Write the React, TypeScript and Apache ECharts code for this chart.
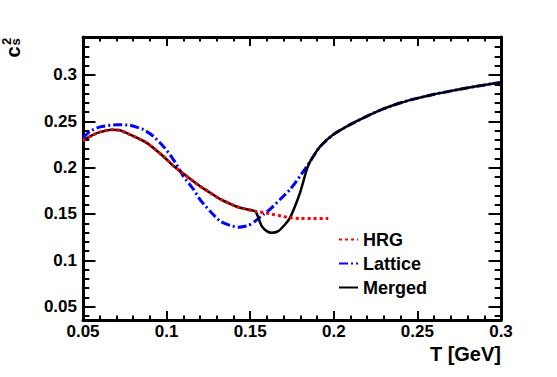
import { useEffect, useRef } from "react";
import * as echarts from "echarts";

const X_MIN = 0.05;
const X_MAX = 0.3;
const Y_MIN = 0.0356;
const Y_MAX = 0.341;

const yMajorTicks = [0.05, 0.1, 0.15, 0.2, 0.25, 0.3];
const yMinorTicks = [
  0.04, 0.06, 0.07, 0.08, 0.09, 0.11, 0.12, 0.13, 0.14, 0.16, 0.17, 0.18, 0.19,
  0.21, 0.22, 0.23, 0.24, 0.26, 0.27, 0.28, 0.29, 0.31, 0.32, 0.33, 0.34,
];

const legendNames = ["HRG", "Lattice", "Merged"];

const hrgT = [
  0.05, 0.055, 0.06, 0.0672, 0.072, 0.0781, 0.0881, 0.098, 0.104, 0.11, 0.114,
  0.12, 0.126, 0.132, 0.138, 0.144, 0.1529, 0.1589, 0.1639, 0.1689, 0.1738,
  0.1798, 0.1878, 0.1967,
];
const hrgCs2 = [
  0.229, 0.2345, 0.2383, 0.241, 0.2403, 0.2357, 0.2267, 0.2123, 0.202, 0.1936,
  0.188, 0.18, 0.173, 0.166, 0.161, 0.1567, 0.153, 0.1513, 0.1495, 0.1476,
  0.1459, 0.1451, 0.145, 0.145,
];

const latticeT = [
  0.05, 0.0542, 0.0602, 0.0702, 0.0781, 0.0861, 0.0921, 0.098, 0.102, 0.106,
  0.11, 0.116, 0.12, 0.126, 0.132, 0.138, 0.1429, 0.1489, 0.1529, 0.1578,
  0.1618, 0.1678, 0.1738, 0.1798, 0.1838, 0.1858, 0.1917, 0.1997, 0.2097,
  0.2196, 0.2296, 0.2396, 0.2496, 0.2595, 0.2695, 0.2795, 0.2894, 0.3,
];
const latticeCs2 = [
  0.232, 0.2392, 0.244, 0.2464, 0.2457, 0.2411, 0.2339, 0.2231, 0.2141, 0.2033,
  0.1907, 0.1768, 0.1656, 0.153, 0.1422, 0.1376, 0.1358, 0.1376, 0.1422, 0.1495,
  0.1549, 0.1656, 0.1764, 0.1908, 0.201, 0.2065, 0.2225, 0.2357, 0.2464,
  0.2554, 0.2634, 0.2698, 0.2748, 0.279, 0.2826, 0.286, 0.289, 0.292,
];

const mergedT = [
  0.05, 0.055, 0.06, 0.0672, 0.072, 0.0781, 0.0881, 0.098, 0.104, 0.11, 0.114,
  0.12, 0.126, 0.132, 0.138, 0.144, 0.1529, 0.1549, 0.1569, 0.1599, 0.1629,
  0.1668, 0.1708, 0.1738, 0.1768, 0.1798, 0.1818, 0.1838, 0.1858, 0.1917,
  0.1997, 0.2097, 0.2196, 0.2296, 0.2396, 0.2496, 0.2595, 0.2695, 0.2795,
  0.2894, 0.3,
];
const mergedCs2 = [
  0.229, 0.2345, 0.2383, 0.241, 0.2403, 0.2357, 0.2267, 0.2123, 0.202, 0.1936,
  0.188, 0.18, 0.173, 0.166, 0.161, 0.1567, 0.153, 0.1459, 0.1369, 0.1315,
  0.1297, 0.1315, 0.1387, 0.1459, 0.1584, 0.1728, 0.1853, 0.1979, 0.2065,
  0.2225, 0.2357, 0.2464, 0.2554, 0.2634, 0.2698, 0.2748, 0.279, 0.2826, 0.286,
  0.289, 0.292,
];

const FONT = "'Liberation Sans', Arial, Helvetica, sans-serif";

const zip = (xs: number[], ys: number[]) => xs.map((x, i) => [x, ys[i]]);
const fmt = (v: number) => String(parseFloat(v.toFixed(3)));

export default function App() {
  const ref = useRef<HTMLDivElement>(null);

  useEffect(() => {
    if (!ref.current) return;
    const chart = echarts.init(ref.current, null, { renderer: "svg" });

    const lineBlack = { color: "#000", width: 3 };
    const tickStyle = { color: "#000", width: 2 };

    const xBase = (pos: "bottom" | "top", showLabel: boolean) => ({
      type: "value",
      position: pos,
      min: X_MIN,
      max: X_MAX,
      interval: 0.05,
      axisLine: { show: true, onZero: false, lineStyle: lineBlack },
      axisTick: { show: true, inside: true, length: 9, lineStyle: tickStyle },
      minorTick: { show: true, splitNumber: 5, length: 4.5, lineStyle: tickStyle },
      axisLabel: {
        show: showLabel,
        margin: 3,
        fontSize: 17,
        fontWeight: "bold",
        fontFamily: FONT,
        color: "#000",
        formatter: fmt,
      },
      splitLine: { show: false },
      minorSplitLine: { show: false },
    });

    const yBase = (
      pos: "left" | "right",
      ticks: number[],
      len: number,
      showLine: boolean,
      showLabel: boolean
    ) => ({
      type: "value",
      position: pos,
      min: Y_MIN,
      max: Y_MAX,
      axisLine: { show: showLine, onZero: false, lineStyle: lineBlack },
      axisTick: {
        show: true,
        inside: true,
        length: len,
        customValues: ticks,
        lineStyle: tickStyle,
      },
      axisLabel: {
        show: showLabel,
        customValues: ticks,
        margin: 6,
        fontSize: 17,
        fontWeight: "bold",
        fontFamily: FONT,
        color: "#000",
        formatter: fmt,
      },
      splitLine: { show: false },
    });

    const legendCommon = {
      orient: "vertical",
      padding: 0,
      itemWidth: 19,
      itemHeight: 14,
      selectedMode: false,
      itemStyle: { opacity: 0, color: "transparent", borderWidth: 0 },
      textStyle: {
        fontSize: 18,
        fontWeight: "bold",
        fontFamily: FONT,
        color: "#000",
        lineHeight: 18,
      },
    };

    chart.setOption({
      animation: false,
      backgroundColor: "#fff",
      grid: { left: 83, right: 56, top: 37, bottom: 57, containLabel: false },
      xAxis: [xBase("bottom", true), xBase("top", false)],
      yAxis: [
        yBase("left", yMajorTicks, 12.5, true, true),
        yBase("left", yMinorTicks, 6.3, false, false),
        yBase("right", yMajorTicks, 12.5, true, false),
        yBase("right", yMinorTicks, 6.3, false, false),
      ],
      legend: [
        { ...legendCommon, data: [legendNames[0]], left: 338, top: 230.5 },
        { ...legendCommon, data: [legendNames[1]], left: 338, top: 254.5 },
        { ...legendCommon, data: [legendNames[2]], left: 338, top: 278.5 },
      ],
      series: [
        {
          name: legendNames[1],
          type: "line",
          data: zip(latticeT, latticeCs2),
          symbol: "none",
          smooth: 0.2,
          color: "#0000ff",
          lineStyle: { color: "#0000ff", width: 3, type: [9, 3, 2, 3] },
          z: 2,
        },
        {
          name: legendNames[2],
          type: "line",
          data: zip(mergedT, mergedCs2),
          symbol: "none",
          smooth: 0.2,
          color: "#000000",
          lineStyle: { color: "#000000", width: 2.5, type: "solid" },
          z: 3,
        },
        {
          name: legendNames[0],
          type: "line",
          data: zip(hrgT, hrgCs2),
          symbol: "none",
          smooth: 0.2,
          color: "#ff0000",
          lineStyle: { color: "#ff0000", width: 3, type: [3, 3] },
          z: 4,
        },
      ],
      graphic: [
        {
          type: "text",
          x: 501,
          y: 354,
          style: {
            text: "T [GeV]",
            fontSize: 20,
            fontWeight: "bold",
            fontFamily: FONT,
            fill: "#000",
            align: "right",
            verticalAlign: "middle",
          },
        },
        {
          type: "text",
          x: 12.5,
          y: 52,
          rotation: Math.PI / 2,
          style: {
            text: "c",
            fontSize: 20,
            fontWeight: "bold",
            fontFamily: FONT,
            fill: "#000",
            align: "center",
            verticalAlign: "middle",
          },
        },
        {
          type: "text",
          x: 15.5,
          y: 42,
          rotation: Math.PI / 2,
          style: {
            text: "s",
            fontSize: 13,
            fontWeight: "bold",
            fontFamily: FONT,
            fill: "#000",
            align: "center",
            verticalAlign: "middle",
          },
        },
        {
          type: "text",
          x: 6,
          y: 41.5,
          rotation: Math.PI / 2,
          style: {
            text: "2",
            fontSize: 13,
            fontWeight: "bold",
            fontFamily: FONT,
            fill: "#000",
            align: "center",
            verticalAlign: "middle",
          },
        },
      ],
    });

    return () => chart.dispose();
  }, []);

  return (
    <div
      ref={ref}
      style={{
        position: "absolute",
        left: 0,
        top: 0,
        width: 557,
        height: 377,
        background: "#fff",
      }}
    />
  );
}
